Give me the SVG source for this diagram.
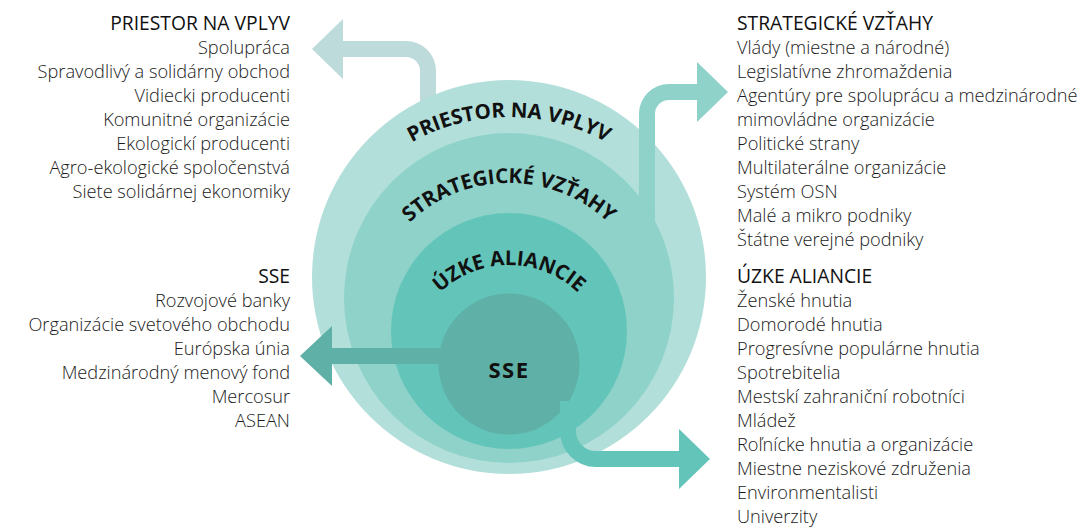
<svg xmlns="http://www.w3.org/2000/svg" width="1080" height="530" viewBox="0 0 1080 530">
<style>
.t{font-family:"Open Sans","Noto Sans","Liberation Sans",sans-serif;font-size:18.2px;font-weight:300;fill:#1a1a1a}
.h{font-family:"Open Sans","Noto Sans","Liberation Sans",sans-serif;font-size:19.3px;font-weight:400;fill:#111}
.c{font-family:"Open Sans","Noto Sans","Liberation Sans",sans-serif;font-size:20.5px;font-weight:700;fill:#111}
.r{text-anchor:end}
.sh{fill:none;stroke-width:16}
</style>
<defs>
<path id="a1" d="M309 317 A200 200 0 0 1 709 317"/>
<path id="a2" d="M364 328 A145 145 0 0 1 654 328"/>
<path id="a3" d="M409 365 A100 100 0 0 1 609 365"/>
</defs>
<g id="connectors-back">
<path class="sh" stroke="#bddbda" d="M428 120 V71 A22 22 0 0 0 406 49 H340"/>
<polygon fill="#bddbda" points="343,19 312,49 343,79"/>
</g>
<g id="ring-priestor"><circle cx="509" cy="277" r="197" fill="#b2dfda"/></g>
<g id="connector-strategicke">
<path class="sh" stroke="#8ed2c9" d="M647 240 V114 A22 22 0 0 1 669 92 H699"/>
<polygon fill="#8ed2c9" points="697,62 728,92 697,122"/>
</g>
<g id="ring-strategicke"><circle cx="509" cy="298" r="165" fill="#8ed2c9"/></g>
<g id="ring-uzke"><circle cx="509" cy="331" r="118" fill="#63c5ba"/></g>
<g id="ring-sse"><circle cx="509" cy="364" r="70.5" fill="#5fb0a7"/></g>
<g id="connectors">
<path class="sh" stroke="#5fb0a7" d="M460 356 H330"/>
<polygon fill="#5fb0a7" points="332,326 300,356 332,386"/>
<path class="sh" stroke="#63c5ba" d="M568 401 V431 A28 28 0 0 0 596 459 H681"/>
<polygon fill="#63c5ba" points="679,429 710,459 679,489"/>
</g>
<g id="ring-labels">
<text class="c"><textPath href="#a1" startOffset="50%" text-anchor="middle">PRIESTOR NA VPLYV</textPath></text>
<text class="c"><textPath href="#a2" startOffset="50%" text-anchor="middle">STRATEGICKÉ VZŤAHY</textPath></text>
<text class="c"><textPath href="#a3" startOffset="50%" text-anchor="middle">ÚZKE ALIANCIE</textPath></text>
<text class="c" x="509" y="378" text-anchor="middle" style="font-size:22px;letter-spacing:1.5px">SSE</text>
</g>
<g id="list-priestor">
<text class="h r" x="290" y="30">PRIESTOR NA VPLYV</text>
<text class="t r" x="290" y="54">Spolupráca</text>
<text class="t r" x="290" y="78">Spravodlivý a solidárny obchod</text>
<text class="t r" x="290" y="102">Vidiecki producenti</text>
<text class="t r" x="290" y="126">Komunitné organizácie</text>
<text class="t r" x="290" y="150">Ekologickí producenti</text>
<text class="t r" x="290" y="174">Agro-ekologické spoločenstvá</text>
<text class="t r" x="290" y="198">Siete solidárnej ekonomiky</text>
</g>
<g id="list-sse">
<text class="h r" x="290" y="283">SSE</text>
<text class="t r" x="290" y="307">Rozvojové banky</text>
<text class="t r" x="290" y="331">Organizácie svetového obchodu</text>
<text class="t r" x="290" y="355">Európska únia</text>
<text class="t r" x="290" y="379">Medzinárodný menový fond</text>
<text class="t r" x="290" y="403">Mercosur</text>
<text class="t r" x="290" y="427">ASEAN</text>
</g>
<g id="list-strategicke">
<text class="h" x="737" y="30">STRATEGICKÉ VZŤAHY</text>
<text class="t" x="737" y="54">Vlády (miestne a národné)</text>
<text class="t" x="737" y="78">Legislatívne zhromaždenia</text>
<text class="t" x="737" y="102">Agentúry pre spoluprácu a medzinárodné</text>
<text class="t" x="737" y="126">mimovládne organizácie</text>
<text class="t" x="737" y="150">Politické strany</text>
<text class="t" x="737" y="174">Multilaterálne organizácie</text>
<text class="t" x="737" y="198">Systém OSN</text>
<text class="t" x="737" y="222">Malé a mikro podniky</text>
<text class="t" x="737" y="246">Štátne verejné podniky</text>
</g>
<g id="list-uzke">
<text class="h" x="737" y="283">ÚZKE ALIANCIE</text>
<text class="t" x="737" y="307">Ženské hnutia</text>
<text class="t" x="737" y="331">Domorodé hnutia</text>
<text class="t" x="737" y="355">Progresívne populárne hnutia</text>
<text class="t" x="737" y="379">Spotrebitelia</text>
<text class="t" x="737" y="403">Mestskí zahraniční robotníci</text>
<text class="t" x="737" y="427">Mládež</text>
<text class="t" x="737" y="451">Roľnícke hnutia a organizácie</text>
<text class="t" x="737" y="475">Miestne neziskové združenia</text>
<text class="t" x="737" y="499">Environmentalisti</text>
<text class="t" x="737" y="523">Univerzity</text>
</g>
</svg>
